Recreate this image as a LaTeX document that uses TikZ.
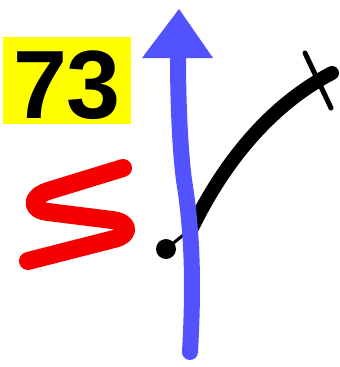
\documentclass[tikz,border=0pt]{standalone}
\usepackage{fontspec}
\setmainfont{Liberation Sans}
\definecolor{arrowblue}{RGB}{82,82,255}
\definecolor{sred}{RGB}{245,0,0}
\definecolor{boxyellow}{RGB}{255,255,0}
\begin{document}
\begin{tikzpicture}[x=1pt,y=-1pt,
  thickblack/.style={line width=14pt,line cap=round,black},
  thinblack/.style={line width=3pt,black},
  tick/.style={line width=5pt,line cap=round,black},
  bluestroke/.style={line width=16pt,line cap=round,arrowblue},
  redstroke/.style={line width=18pt,line cap=round,line join=round,sred}]
\useasboundingbox (0,0) rectangle (340,367);
% number label
\node[fill=boxyellow,minimum width=128pt,minimum height=87pt,inner sep=0pt] (box) at (67,80.5) {};
\node[anchor=base,inner sep=0pt] (num) at (67,118) {\fontsize{97}{97}\selectfont\bfseries 73};
% red S
\draw[redstroke] (123,168) -- (48,191) .. controls (30,197) and (30,210) .. (48,212) -- (112,220) .. controls (130,222) and (131,235) .. (114,239) -- (28,261);
% black dot, thin line, thick curve
\node[circle,fill=black,minimum size=20pt,inner sep=0pt] (dot) at (166,249) {};
\coordinate (cstart) at (192,228);
\coordinate (cend) at (332,73);
\draw[thinblack] (dot.center) -- (cstart);
\draw[thickblack] (cstart) .. controls (230,150) and (280,100) .. (cend);
\coordinate (t1) at (305,53);
\coordinate (t2) at (331,108);
\draw[tick] (t1) -- (t2);
% blue arrow
\coordinate (bbot) at (190,352);
\coordinate (btop) at (178,58);
\draw[bluestroke] (bbot) .. controls (194,280) and (192,230) .. (184,180) .. controls (180,150) and (178,100) .. (btop);
\fill[arrowblue] (142,58) -- (213,58) -- (179,9) -- cycle;
\end{tikzpicture}
\end{document}
